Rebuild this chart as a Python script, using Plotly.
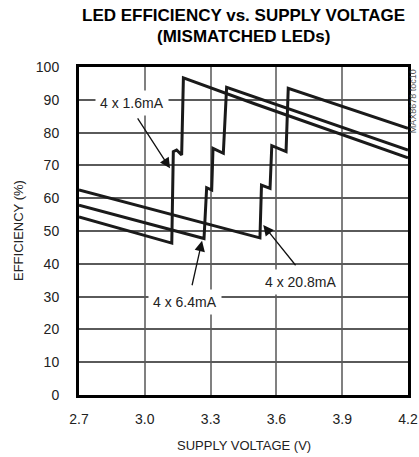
import plotly.graph_objects as go

# 4 x 1.6mA
v_16 = [2.7, 2.9, 3.123, 3.130, 3.145, 3.168, 3.176, 3.5, 3.9, 4.2]
e_16 = [54.3, 50.6, 46.3, 74.2, 74.7, 73.2, 96.7, 88.8, 79.4, 72.3]
# 4 x 6.4mA
v_64 = [2.7, 3.0, 3.270, 3.282, 3.305, 3.311, 3.358, 3.373, 3.8, 4.2]
e_64 = [57.9, 52.6, 47.7, 63.2, 62.5, 75.2, 73.7, 93.8, 83.9, 74.7]
# 4 x 20.8mA
v_208 = [2.7, 3.1, 3.525, 3.532, 3.571, 3.579, 3.644, 3.654, 4.0, 4.2]
e_208 = [62.5, 55.4, 47.9, 64.0, 63.0, 76.0, 74.2, 93.5, 85.8, 81.3]

x_ticks = [2.7, 3.0, 3.3, 3.6, 3.9, 4.2]
x_labels = ["2.7", "3.0", "3.3", "3.6", "3.9", "4.2"]
dark_grid_x = [3.3, 3.9]
y_ticks = [0, 10, 20, 30, 40, 50, 60, 70, 80, 90, 100]

FONT = "Liberation Sans Narrow, Liberation Sans, Arial, sans-serif"

fig = go.Figure()
for v, e in [(v_16, e_16), (v_64, e_64), (v_208, e_208)]:
    fig.add_trace(go.Scatter(x=v, y=e, mode="lines",
                             line=dict(color="#1a1a1a", width=3),
                             showlegend=False, hoverinfo="skip"))

for gx in dark_grid_x:
    fig.add_vline(x=gx, line=dict(color="#000", width=1), layer="below")

labels = [
    # text, text x, text y, tail x, tail y, tip x, tip y
    ("4 x 1.6mA", 2.940, 89.0, 2.963, 84.8, 3.115, 69.1),
    ("4 x 6.4mA", 3.183, 28.4, 3.214, 33.0, 3.261, 47.0),
    ("4 x 20.8mA", 3.708, 34.5, 3.693, 39.1, 3.540, 51.8),
]
for t, tx, ty, ax, ay, hx, hy in labels:
    fig.add_annotation(x=tx, y=ty, text=t, showarrow=False,
                       bgcolor="white", borderpad=4,
                       font=dict(family=FONT, size=14, color="#222"))
    fig.add_annotation(x=hx, y=hy, ax=ax, ay=ay, axref="x", ayref="y",
                       text="", showarrow=True, arrowhead=2, arrowsize=1.6,
                       arrowwidth=1.3, arrowcolor="#111", standoff=0)

# side code label
fig.add_annotation(x=1.0155, y=0.896, xref="paper", yref="paper", xanchor="center",
                   yanchor="middle", text="MAX8678 toc10", showarrow=False,
                   textangle=-90, font=dict(family=FONT, size=9, color="#555"))

# title lines
fig.add_annotation(x=0.5, y=(395 - 15) / 328, xref="paper", yref="paper",
                   xanchor="center", yanchor="middle", showarrow=False,
                   text="<b>LED EFFICIENCY vs. SUPPLY VOLTAGE</b>",
                   font=dict(family=FONT, size=17, color="#000"))
fig.add_annotation(x=0.5, y=(395 - 36) / 328, xref="paper", yref="paper",
                   xanchor="center", yanchor="middle", showarrow=False,
                   text="<b>(MISMATCHED LEDs)</b>",
                   font=dict(family=FONT, size=17, color="#000"))
# axis titles
fig.add_annotation(x=0.5, y=(395 - 445) / 328, xref="paper", yref="paper",
                   xanchor="center", yanchor="middle", showarrow=False,
                   text="SUPPLY VOLTAGE (V)",
                   font=dict(family=FONT, size=13, color="#222"))
fig.add_annotation(x=(18 - 79) / 329, y=(395 - 231) / 328, xref="paper", yref="paper",
                   xanchor="center", yanchor="middle", showarrow=False,
                   textangle=-90, text="EFFICIENCY (%)",
                   font=dict(family=FONT, size=13, color="#222"))

fig.update_layout(
    width=419, height=457,
    margin=dict(l=79, r=11, t=67, b=62),
    paper_bgcolor="white", plot_bgcolor="white",
    font=dict(family=FONT, size=13, color="#222"),
)
fig.update_xaxes(range=[2.7, 4.2], tickvals=x_ticks, ticktext=x_labels,
                 showgrid=True, gridcolor="#808080", gridwidth=1.6,
                 showline=True, linecolor="#000", linewidth=3, mirror=True,
                 ticks="", ticklabelstandoff=9, zeroline=False, automargin=False,
                 tickfont=dict(family=FONT, size=14))
fig.update_yaxes(range=[0, 100], tickvals=y_ticks,
                 showgrid=True, gridcolor="#5a5a5a", gridwidth=1.5,
                 showline=True, linecolor="#000", linewidth=3, mirror=True,
                 ticks="", ticklabelstandoff=14, zeroline=False, automargin=False,
                 tickfont=dict(family=FONT, size=14))

fig.write_html("out.html", config={"displayModeBar": False},
               post_script="document.body.style.margin='0';document.body.style.overflow='hidden';")
